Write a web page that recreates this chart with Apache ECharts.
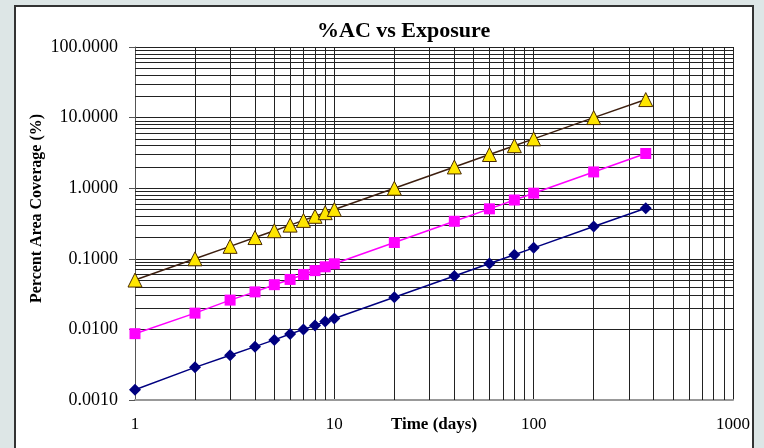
<!DOCTYPE html>
<html>
<head>
<meta charset="utf-8">
<script src="https://cdn.jsdelivr.net/npm/echarts@6/dist/echarts.min.js"></script>
<style>
  html, body { margin: 0; padding: 0; width: 100%; height: 100%; overflow: hidden; background: #dde6e6; }
  #frame { position: absolute; left: 14px; top: 5px; width: 736px; height: 450px; background: #fff; border: 2px solid #333; box-sizing: content-box; }
  #chart { position: absolute; left: 0; top: 0; width: 764px; height: 448px; }
</style>
</head>
<body>
<div id="frame"></div>
<div id="chart"></div>
<script>
// exposure time in days
var days = [1, 2, 3, 4, 5, 6, 7, 8, 9, 10, 20, 40, 60, 80, 100, 200, 365];

// percent area coverage
var triangleSeries = [0.05, 0.10, 0.15, 0.20, 0.25, 0.30, 0.35, 0.40, 0.45, 0.50, 1.0, 2.0, 3.0, 4.0, 5.0, 10.0, 18.0];
var squareSeries = [0.0087, 0.017, 0.026, 0.034, 0.043, 0.051, 0.060, 0.068, 0.077, 0.085, 0.17, 0.34, 0.51, 0.68, 0.85, 1.7, 3.1];
var diamondSeries = [0.0014, 0.0029, 0.0043, 0.0057, 0.0071, 0.0086, 0.010, 0.0114, 0.0129, 0.0143, 0.0286, 0.057, 0.086, 0.114, 0.143, 0.286, 0.52];

// minor gridlines (2..9 of each decade)
var xMinor = [];
var yMinor = [];
[1, 10, 100].forEach(function (d) {
    for (var k = 2; k <= 9; k++) xMinor.push(k * d);
});
[0.001, 0.01, 0.1, 1, 10].forEach(function (d) {
    for (var k = 2; k <= 9; k++) yMinor.push(+(k * d).toPrecision(3));
});

function pairs(ys) {
    var out = [];
    for (var i = 0; i < days.length; i++) out.push([days[i], ys[i]]);
    return out;
}

var gridLines = [];
xMinor.forEach(function (v) { gridLines.push({ xAxis: v }); });
yMinor.forEach(function (v) { gridLines.push({ yAxis: v }); });

var myChart = echarts.init(document.getElementById('chart'));
var serif = '"Liberation Serif", "DejaVu Serif", serif';

var option = {
    animation: false,
    backgroundColor: 'transparent',
    title: {
        text: '%AC vs Exposure',
        left: 312,
        top: 15,
        textStyle: { fontFamily: serif, fontSize: 22, fontWeight: 'bold', color: '#000' }
    },
    grid: { left: 135, right: 31, top: 47, bottom: 48, containLabel: false, outerBoundsMode: 'none' },
    xAxis: {
        type: 'log',
        logBase: 10,
        min: 1,
        max: 1000,
        name: 'Time (days)',
        nameLocation: 'middle',
        nameGap: 16,
        nameMoveOverlap: false,
        nameTextStyle: { fontFamily: serif, fontSize: 17, fontWeight: 'bold', color: '#000', verticalAlign: 'top' },
        axisLine: { show: true, lineStyle: { color: '#999', width: 2 } },
        axisTick: { show: false },
        axisLabel: {
            fontFamily: serif, fontSize: 17, color: '#000', margin: 16,
            formatter: function (v) { return String(Math.round(v)); }
        },
        splitLine: { show: true, lineStyle: { color: '#222', width: 1 } }
    },
    yAxis: {
        type: 'log',
        logBase: 10,
        min: 0.001,
        max: 100,
        name: 'Percent Area Coverage (%)',
        nameLocation: 'middle',
        nameGap: 90,
        nameMoveOverlap: false,
        nameTextStyle: { fontFamily: serif, fontSize: 16, fontWeight: 'bold', color: '#000', padding: [0, 0, 0, 30] },
        axisLine: { show: true, lineStyle: { color: '#555', width: 1 } },
        axisTick: { show: true, inside: false, length: 6, lineStyle: { color: '#555' } },
        axisLabel: {
            fontFamily: serif, fontSize: 18, color: '#000', margin: 17,
            formatter: function (v) { return Number(v).toFixed(4); }
        },
        splitLine: { show: true, lineStyle: { color: '#222', width: 1 } }
    },
    series: [
        {
            name: 'grid',
            type: 'line',
            data: [],
            silent: true,
            z: 1,
            markLine: {
                silent: true,
                symbol: 'none',
                label: { show: false },
                animation: false,
                lineStyle: { color: '#222', type: 'solid', width: 1 },
                data: gridLines
            }
        },
        {
            name: 'diamond',
            type: 'line',
            z: 5,
            data: pairs(diamondSeries),
            symbol: 'diamond',
            symbolSize: 12,
            itemStyle: { color: '#000080' },
            lineStyle: { color: '#000080', width: 1.5 }
        },
        {
            name: 'square',
            type: 'line',
            z: 5,
            data: pairs(squareSeries),
            symbol: 'rect',
            symbolSize: 11,
            itemStyle: { color: '#ff00ff' },
            lineStyle: { color: '#ff00ff', width: 1.5 }
        },
        {
            name: 'triangle',
            type: 'line',
            z: 5,
            data: pairs(triangleSeries),
            symbol: 'triangle',
            symbolSize: 14,
            itemStyle: { color: '#ffe600', borderColor: '#4a2a00', borderWidth: 1 },
            lineStyle: { color: '#3d1f0f', width: 1.5 }
        }
    ]
};

myChart.setOption(option);
</script>
</body>
</html>
